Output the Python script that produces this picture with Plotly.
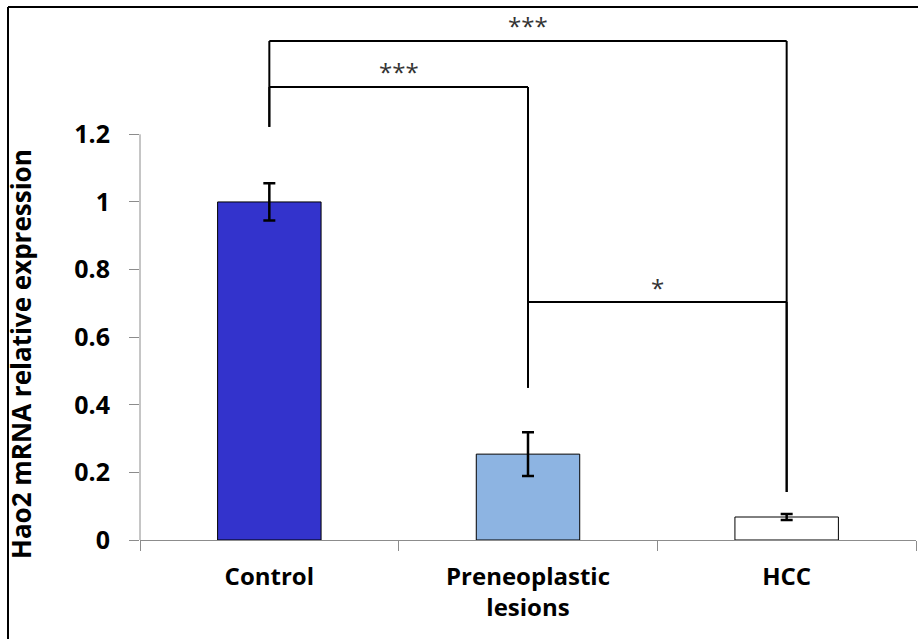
import plotly.graph_objects as go

# Hao2 expression data
categories = ["Control", "Preneoplastic<br>lesions", "HCC"]
expression = [1.0, 0.254, 0.068]
sem = [0.055, 0.065, 0.009]
bar_colors = ["#3333CC", "#8DB4E2", "#FFFFFF"]
y_ticks = [0, 0.2, 0.4, 0.6, 0.8, 1.0, 1.2]
y_tick_labels = ["0", "0.2", "0.4", "0.6", "0.8", "1", "1.2"]

# significance brackets: (left index, right index, bar height, left foot, right foot, label, label height)
brackets = [
    (0, 2, 1.476, 1.222, 0.142, "***", 1.522),
    (0, 1, 1.340, 1.222, 0.450, "***", 1.385),
    (1, 2, 0.704, 0.450, 0.142, "*", 0.748),
]

FONT = "Open Sans"
W, H = 918, 639
ML, MR, MT, MB = 140, 2, 16, 99
Y_MAX = 1.55

fig = go.Figure()
fig.add_trace(go.Bar(
    x=categories,
    y=expression,
    width=0.4,
    marker=dict(color=bar_colors, line=dict(color="#000000", width=1)),
    error_y=dict(type="data", array=sem, visible=True,
                 color="#000000", thickness=2.5, width=6),
    hoverinfo="skip",
    showlegend=False,
))

shapes = []
line_style = dict(color="#000000", width=2)
for left, right, top, foot_l, foot_r, label, label_y in brackets:
    shapes.append(dict(type="line", xref="x", yref="y", x0=left, x1=right,
                       y0=top, y1=top, line=line_style))
    shapes.append(dict(type="line", xref="x", yref="y", x0=left, x1=left,
                       y0=top, y1=foot_l, line=line_style))
    shapes.append(dict(type="line", xref="x", yref="y", x0=right, x1=right,
                       y0=top, y1=foot_r, line=line_style))

# left value axis line, stopping at the last tick
shapes.append(dict(type="line", xref="paper", yref="y", x0=0, x1=0,
                   y0=0, y1=1.2, line=dict(color="#8C8C8C", width=1)))

# outer frame (top and left edges)
plot_w = W - ML - MR
plot_h = H - MT - MB


def px_x(px):
    return (px - ML) / plot_w


def px_y(py):
    return (H - MB - py) / plot_h


shapes.append(dict(type="line", xref="paper", yref="paper",
                   x0=px_x(8), x1=px_x(W + 2), y0=px_y(7), y1=px_y(7),
                   line=dict(color="#000000", width=2)))
shapes.append(dict(type="line", xref="paper", yref="paper",
                   x0=px_x(8), x1=px_x(8), y0=px_y(7), y1=px_y(H + 2),
                   line=dict(color="#000000", width=2)))

annotations = []
for left, right, top, foot_l, foot_r, label, label_y in brackets:
    annotations.append(dict(
        x=(left + right) / 2, y=label_y, xref="x", yref="y",
        text=label, showarrow=False, xanchor="center", yanchor="middle",
        font=dict(family=FONT, size=24, color="#333333"),
    ))

annotations.append(dict(
    x=px_x(21), y=px_y(354), xref="paper", yref="paper",
    text="Hao2 mRNA relative expression", textangle=-90, showarrow=False,
    xanchor="center", yanchor="middle",
    font=dict(family=FONT, size=26, color="#000000", weight=700),
))

fig.update_layout(
    width=W, height=H,
    margin=dict(l=ML, r=MR, t=MT, b=MB, pad=0),
    paper_bgcolor="#FFFFFF", plot_bgcolor="#FFFFFF",
    shapes=shapes, annotations=annotations,
    bargap=0.6,
    xaxis=dict(
        type="category", range=[-0.5, 2.5],
        showline=True, linecolor="#8C8C8C", linewidth=1,
        ticks="outside", tickson="boundaries", ticklen=10, tickwidth=1,
        tickcolor="#8C8C8C", showgrid=False, zeroline=False,
        tickfont=dict(family=FONT, size=24, color="#000000", weight=700),
        ticklabelstandoff=15, fixedrange=True,
    ),
    yaxis=dict(
        range=[0, Y_MAX], tickvals=y_ticks, ticktext=y_tick_labels,
        showline=False, ticks="outside", ticklen=10, tickwidth=1,
        tickcolor="#8C8C8C", showgrid=False, zeroline=False,
        tickfont=dict(family=FONT, size=25, color="#000000", weight=700),
        ticklabelstandoff=14, fixedrange=True,
    ),
)

fig.write_html("out.html", config={"displayModeBar": False})
